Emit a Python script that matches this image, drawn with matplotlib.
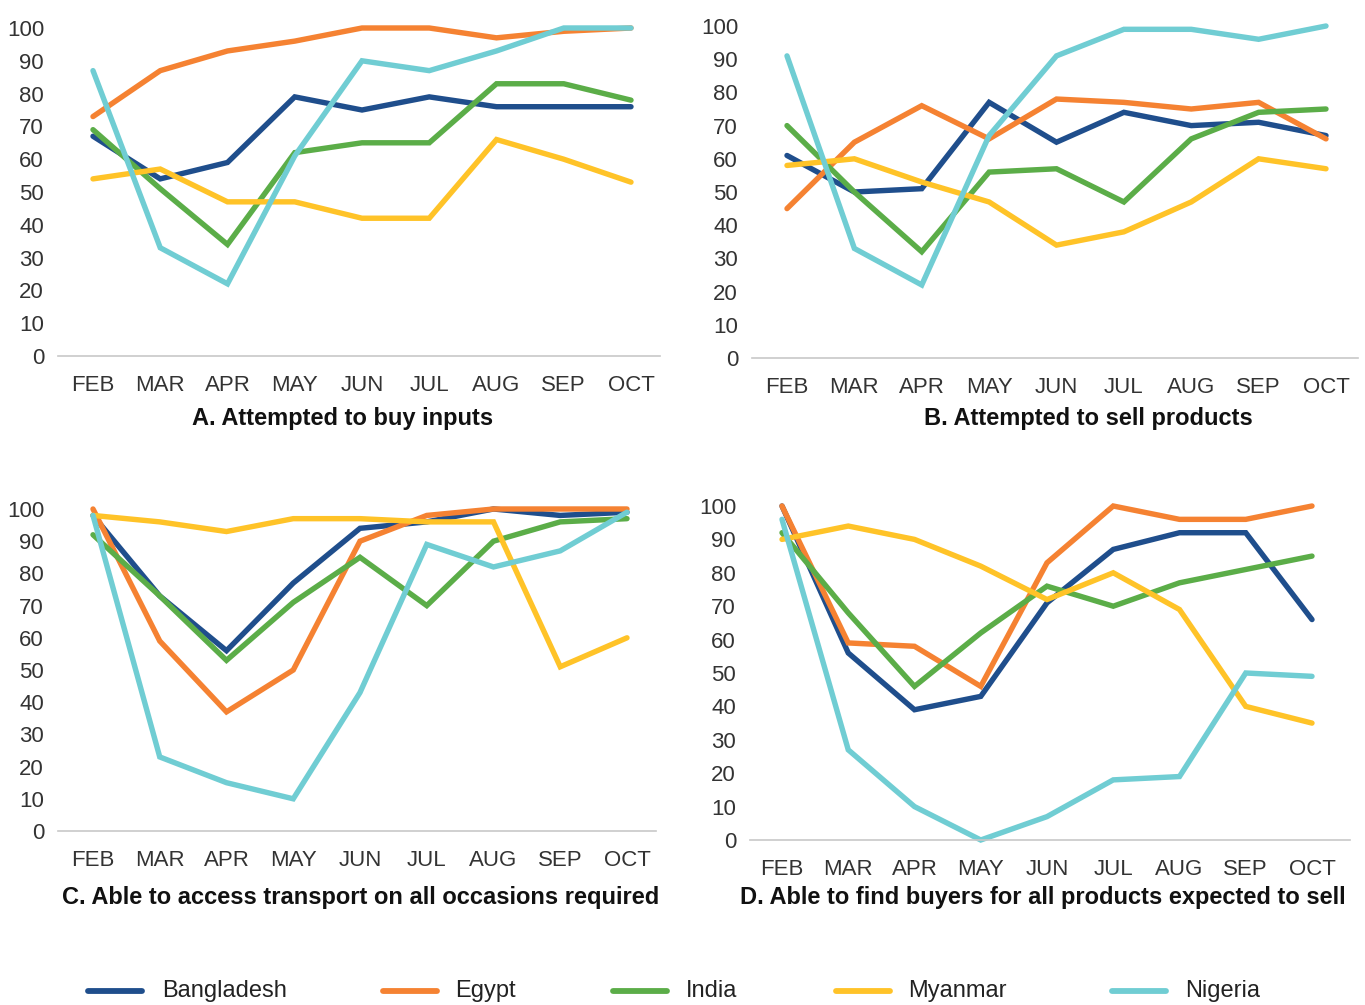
import numpy as np
import matplotlib
matplotlib.use('Agg')
import matplotlib.pyplot as plt
from matplotlib.lines import Line2D

# Data
months = ['FEB', 'MAR', 'APR', 'MAY', 'JUN', 'JUL', 'AUG', 'SEP', 'OCT']
countries = ['Bangladesh', 'Egypt', 'India', 'Myanmar', 'Nigeria']
colors = ['#1f4e8c', '#f58232', '#5bad48', '#ffc328', '#70cdd3']

# A. Attempted to buy inputs
a_bangladesh = [67, 54, 59, 79, 75, 79, 76, 76, 76]
a_egypt      = [73, 87, 93, 96, 100, 100, 97, 99, 100]
a_india      = [69, 51, 34, 62, 65, 65, 83, 83, 78]
a_myanmar    = [54, 57, 47, 47, 42, 42, 66, 60, 53]
a_nigeria    = [87, 33, 22, 61, 90, 87, 93, 100, 100]

# B. Attempted to sell products
b_bangladesh = [61, 50, 51, 77, 65, 74, 70, 71, 67]
b_egypt      = [45, 65, 76, 66, 78, 77, 75, 77, 66]
b_india      = [70, 50, 32, 56, 57, 47, 66, 74, 75]
b_myanmar    = [58, 60, 53, 47, 34, 38, 47, 60, 57]
b_nigeria    = [91, 33, 22, 67, 91, 99, 99, 96, 100]

# C. Able to access transport
c_bangladesh = [98, 73, 56, 77, 94, 96, 100, 98, 99]
c_egypt      = [100, 59, 37, 50, 90, 98, 100, 100, 100]
c_india      = [92, 73, 53, 71, 85, 70, 90, 96, 97]
c_myanmar    = [98, 96, 93, 97, 97, 96, 96, 51, 60]
c_nigeria    = [98, 23, 15, 10, 43, 89, 82, 87, 99]

# D. Able to find buyers
d_bangladesh = [100, 56, 39, 43, 71, 87, 92, 92, 66]
d_egypt      = [100, 59, 58, 46, 83, 100, 96, 96, 100]
d_india      = [92, 68, 46, 62, 76, 70, 77, 81, 85]
d_myanmar    = [90, 94, 90, 82, 72, 80, 69, 40, 35]
d_nigeria    = [96, 27, 10, 0, 7, 18, 19, 50, 49]

titles = ['A. Attempted to buy inputs',
          'B. Attempted to sell products',
          'C. Able to access transport on all occasions required',
          'D. Able to find buyers for all products expected to sell']

panels = [[a_bangladesh, a_egypt, a_india, a_myanmar, a_nigeria],
          [b_bangladesh, b_egypt, b_india, b_myanmar, b_nigeria],
          [c_bangladesh, c_egypt, c_india, c_myanmar, c_nigeria],
          [d_bangladesh, d_egypt, d_india, d_myanmar, d_nigeria]]

plt.rcParams['font.family'] = ['Liberation Sans', 'DejaVu Sans']

W, H = 1365, 1005
fig = plt.figure(figsize=(W / 100, H / 100), dpi=100)

# pixel layout: left, right, y of 0, y of 100, x of FEB, x of OCT, title x, title y
layout = [(58, 660, 356, 28, 93, 631, 343, 418),
          (752, 1358, 358, 26, 787, 1326, 1088, 418),
          (58, 656, 831, 509, 93, 627, 361, 897),
          (750, 1350, 840, 506, 782, 1312, 1043, 897)]

for k in range(4):
    l, r, y0, y1, xf, xo, tx, ty = layout[k]
    ax = fig.add_axes([l / W, 1 - y0 / H, (r - l) / W, (y0 - y1) / H])
    unit = (xo - xf) / 8.0
    ax.set_xlim(-(xf - l) / unit, 8 + (r - xo) / unit)
    ax.set_ylim(0, 100)
    x = np.arange(len(months))
    for vals, c in zip(panels[k], colors):
        ax.plot(x, vals, color=c, lw=3.9, solid_capstyle='round',
                solid_joinstyle='miter', clip_on=False)
    for s in ['top', 'right', 'left']:
        ax.spines[s].set_visible(False)
    ax.spines['bottom'].set_color('#c8c8c8')
    ax.spines['bottom'].set_linewidth(1.2)
    ax.set_xticks(x)
    ax.set_xticklabels(months)
    ax.set_yticks(range(0, 101, 10))
    ax.tick_params(axis='x', length=0, pad=14, labelsize=16, labelcolor='#333333')
    ax.tick_params(axis='y', length=0, pad=10, labelsize=16, labelcolor='#333333')
    fig.text(tx / W, 1 - ty / H, titles[k], ha='center', va='center',
             fontsize=17, fontweight='bold', color='#111111')

# legend along the bottom, placed by hand
leg_line_x = [88, 383, 613, 836, 1112]
leg_text_x = [162, 455, 686, 908, 1185]
leg_y = 1 - 991 / H
for c, name, lx, txx in zip(colors, countries, leg_line_x, leg_text_x):
    fig.add_artist(Line2D([lx / W, (lx + 54) / W], [leg_y, leg_y], color=c,
                          lw=4.2, solid_capstyle='round'))
    fig.text(txx / W, leg_y, name, ha='left', va='center', fontsize=17,
             color='#222222')

fig.savefig('out.png', dpi=100)
